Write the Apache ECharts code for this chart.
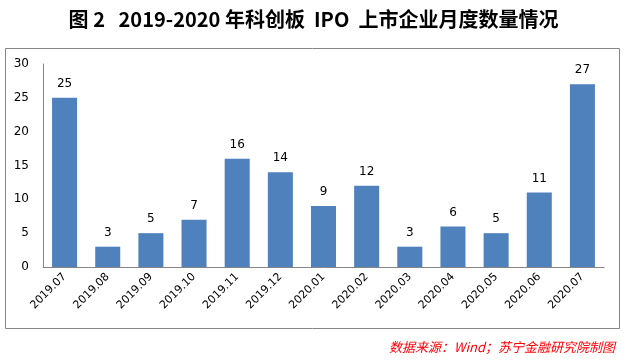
<!DOCTYPE html>
<html><head><meta charset="utf-8">
<script src="https://cdn.jsdelivr.net/npm/echarts@6/dist/echarts.min.js"></script>
<style>html,body{margin:0;padding:0;background:#fff}#c{width:627px;height:361px}</style>
</head><body><div id="c"></div>
<script>
var categories = ['2019.07','2019.08','2019.09','2019.10','2019.11','2019.12','2020.01','2020.02','2020.03','2020.04','2020.05','2020.06','2020.07'];
var counts = [25, 3, 5, 7, 16, 14, 9, 12, 3, 6, 5, 11, 27];
var yTicks = [0, 5, 10, 15, 20, 25, 30];
var titleText = '图 2   2019-2020 年科创板  IPO  上市企业月度数量情况';
var sourceText = '数据来源：Wind；苏宁金融研究院制图';

var chart = echarts.init(document.getElementById('c'));
chart.setOption({
  animation: false,
  backgroundColor: '#fff',
  title: {
    text: titleText, left: 'center', top: 4,
    textStyle: {fontFamily: 'Noto Sans CJK SC', fontWeight: 'bold', fontSize: 20, color: '#000'}
  },
  graphic: [
    {type: 'rect', shape: {x: 5.5, y: 48.5, width: 614, height: 280}, style: {fill: 'none', stroke: '#868686', lineWidth: 1}, z: -1},
    {type: 'text', right: 12, top: 341, style: {text: sourceText, fill: '#ff0000', font: 'italic 13px "Noto Sans CJK SC"'}}
  ],
  grid: {left: 43, right: 23, top: 64, bottom: 94},
  xAxis: {
    type: 'category', data: categories,
    axisLine: {lineStyle: {color: '#868686'}},
    axisTick: {show: false},
    axisLabel: {rotate: 45, interval: 0, color: '#000', fontSize: 11, fontFamily: 'DejaVu Sans', margin: 8}
  },
  yAxis: {
    type: 'value', min: yTicks[0], max: yTicks[yTicks.length-1], interval: 5,
    axisLine: {show: true, lineStyle: {color: '#868686'}},
    axisTick: {show: false},
    splitLine: {show: false},
    axisLabel: {color: '#000', fontSize: 12, fontFamily: 'DejaVu Sans', margin: 14}
  },
  series: [{
    type: 'bar', data: counts, barWidth: '58%',
    itemStyle: {color: '#4f81bd'},
    label: {show: true, position: 'top', distance: 8, color: '#000', fontSize: 12, fontFamily: 'DejaVu Sans'}
  }]
});
</script></body></html>
